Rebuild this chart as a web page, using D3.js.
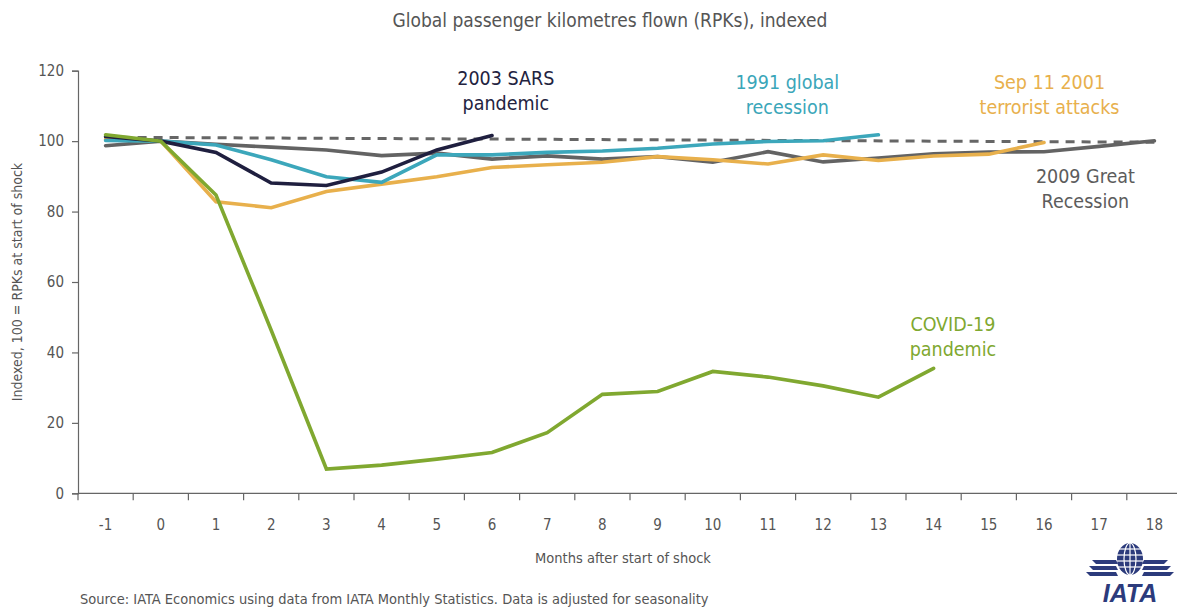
<!DOCTYPE html>
<html>
<head>
<meta charset="utf-8">
<script src="https://cdn.jsdelivr.net/npm/d3@7"></script>
<style>
  html, body { margin: 0; padding: 0; background: #fff; }
  svg { display: block; }
  text { font-family: "Liberation Sans Narrow", "DejaVu Sans Condensed", "Roboto", sans-serif; }
</style>
</head>
<body>
<svg id="chart" width="1177" height="610"></svg>
<script>
// Months relative to the start of each shock
const months = [-1, 0, 1, 2, 3, 4, 5, 6, 7, 8, 9, 10, 11, 12, 13, 14, 15, 16, 17, 18];
const yTicks = [0, 20, 40, 60, 80, 100, 120];

// Indexed RPKs, 100 = start of shock
const sars2003      = [101.3, 100, 96.8, 88.1, 87.4, 91.2, 97.5, 101.6];
const recession1991 = [100.2, 100, 98.9, 94.7, 89.9, 88.3, 96.1, 96.1, 96.8, 97.2, 98.0, 99.2, 99.9, 100.1, 101.8];
const sep11         = [100.5, 100, 82.8, 81.1, 85.7, 87.8, 89.9, 92.5, 93.3, 94.0, 95.6, 94.7, 93.5, 96.1, 94.5, 95.8, 96.3, 99.6];
const greatRec2009  = [98.7, 100, 99.1, 98.3, 97.5, 95.9, 96.6, 94.9, 95.8, 94.9, 95.6, 94.0, 97.0, 94.1, 95.2, 96.4, 96.9, 97.0, 98.5, 100.1];
const covid19       = [101.8, 100, 84.7, 46.3, 6.9, 8.0, 9.7, 11.6, 17.2, 28.1, 28.9, 34.6, 33.0, 30.5, 27.3, 35.5];
// Pre-shock reference level
const referenceLevel = [{ m: -1, v: 101.1 }, { m: 18, v: 99.7 }];

const series = [
  { name: "2003 SARS",      values: sars2003,      color: "#1f1f3f" },
  { name: "1991 global",    values: recession1991, color: "#3ca7bb" },
  { name: "Sep 11 2001",    values: sep11,         color: "#e8b04c" },
  { name: "2009 Great",     values: greatRec2009,  color: "#636363" },
  { name: "COVID-19",       values: covid19,       color: "#80a830" }
];
const drawOrder = ["2009 Great", "Sep 11 2001", "1991 global", "2003 SARS", "COVID-19"];

const labels = [
  { lines: ["2003 SARS", "pandemic"],            color: "#23233f", m: 6.25,  v: 115.9 },
  { lines: ["1991 global", "recession"],         color: "#3aa6b9", m: 11.35, v: 114.7 },
  { lines: ["Sep 11 2001", "terrorist attacks"], color: "#e8b04c", m: 16.1,  v: 114.7 },
  { lines: ["2009 Great", "Recession"],          color: "#5c5c5c", m: 16.75, v: 88.2 },
  { lines: ["COVID-19", "pandemic"],             color: "#80a830", m: 14.35, v: 46.2 }
];

const svg = d3.select("#chart");
const plotLeft = 78, plotRight = 1182, plotTop = 70.7, plotBottom = 493.3;

const x = d3.scaleBand().domain(months).range([plotLeft, plotRight]).padding(0);
const xc = m => x(m) + x.bandwidth() / 2;
const y = d3.scaleLinear().domain([0, 120]).range([plotBottom, plotTop]);

const axisColor = "#666";
const textColor = "#555";

// Title
svg.append("text")
  .attr("x", 610).attr("y", 27)
  .attr("text-anchor", "middle")
  .attr("font-size", 19)
  .attr("fill", textColor)
  .text("Global passenger kilometres flown (RPKs), indexed");

// Y axis
const yAxis = svg.append("g")
  .attr("transform", `translate(${plotLeft},0)`)
  .call(d3.axisLeft(y).tickValues(yTicks).tickSize(6).tickPadding(8));
yAxis.select(".domain").attr("stroke", axisColor).attr("stroke-width", 1.2);
yAxis.selectAll(".tick line").attr("stroke", axisColor).attr("stroke-width", 1.2);
yAxis.selectAll(".tick text").attr("fill", textColor).attr("font-size", 15)
  .style("font-family", '"Liberation Sans Narrow", "DejaVu Sans Condensed", sans-serif');

// X axis: ticks at band edges, labels at band centres
const xAxisG = svg.append("g").attr("transform", `translate(0,${plotBottom})`);
xAxisG.append("line")
  .attr("x1", plotLeft).attr("x2", plotRight)
  .attr("stroke", axisColor).attr("stroke-width", 1.2);
xAxisG.selectAll("line.edge")
  .data(months)
  .join("line")
  .attr("class", "edge")
  .attr("x1", d => x(d)).attr("x2", d => x(d))
  .attr("y1", 0).attr("y2", 7)
  .attr("stroke", axisColor).attr("stroke-width", 1.2);
xAxisG.selectAll("text.lab")
  .data(months)
  .join("text")
  .attr("class", "lab")
  .attr("x", d => xc(d))
  .attr("y", 37)
  .attr("text-anchor", "middle")
  .attr("font-size", 15)
  .attr("fill", textColor)
  .text(d => d);

// Axis titles
svg.append("text")
  .attr("transform", `translate(22,${(plotTop + plotBottom) / 2}) rotate(-90)`)
  .attr("text-anchor", "middle")
  .attr("font-size", 14)
  .attr("fill", textColor)
  .text("Indexed, 100 = RPKs at start of shock");

svg.append("text")
  .attr("x", 623).attr("y", 563)
  .attr("text-anchor", "middle")
  .attr("font-size", 14.5)
  .attr("fill", textColor)
  .text("Months after start of shock");

svg.append("text")
  .attr("x", 80).attr("y", 604)
  .attr("font-size", 14.5)
  .attr("fill", textColor)
  .text("Source: IATA Economics using data from IATA Monthly Statistics. Data is adjusted for seasonality");

// Reference dashed line
const line = d3.line().x(d => xc(d.m)).y(d => y(d.v));
svg.append("path")
  .datum(referenceLevel)
  .attr("d", line)
  .attr("fill", "none")
  .attr("stroke", "#666")
  .attr("stroke-width", 3)
  .attr("stroke-dasharray", "9,7");

// Series lines
drawOrder.forEach(name => {
  const s = series.find(d => d.name === name);
  const pts = s.values.map((v, i) => ({ m: months[i], v }));
  svg.append("path")
    .datum(pts)
    .attr("d", line)
    .attr("fill", "none")
    .attr("stroke", s.color)
    .attr("stroke-width", 3.6)
    .attr("stroke-linejoin", "miter")
    .attr("stroke-linecap", "round");
});

// Direct labels
labels.forEach(l => {
  const lx = xc(0) + l.m * x.bandwidth();
  const t = svg.append("text")
    .attr("x", lx)
    .attr("y", y(l.v))
    .attr("text-anchor", "middle")
    .attr("font-size", 19.5)
    .attr("fill", l.color);
  l.lines.forEach((ln, i) => {
    t.append("tspan")
      .attr("x", lx)
      .attr("dy", i === 0 ? 0 : 25)
      .text(ln);
  });
});

// IATA logo
const logo = svg.append("g").attr("transform", "translate(1130,563)");
const navy = "#2c3b7c";
// wings
[[-3, 10], [3, 7], [9, 4]].forEach(([dy, inset]) => {
  logo.append("path")
    .attr("d", `M${-48 + inset},${dy} L${-14},${dy} L${-12},${dy + 4} L${-44 + inset},${dy + 4} Z`)
    .attr("fill", navy);
  logo.append("path")
    .attr("d", `M${48 - inset},${dy} L${14},${dy} L${12},${dy + 4} L${44 - inset},${dy + 4} Z`)
    .attr("fill", navy);
});
// globe
logo.append("ellipse").attr("rx", 13).attr("ry", 16).attr("cy", -4).attr("fill", navy);
[-10, -4, 2, 8].forEach(dy => {
  logo.append("line").attr("x1", -13).attr("x2", 13).attr("y1", dy - 4).attr("y2", dy - 4)
    .attr("stroke", "#fff").attr("stroke-width", 1.2);
});
logo.append("ellipse").attr("rx", 6).attr("ry", 16).attr("cy", -4)
  .attr("fill", "none").attr("stroke", "#fff").attr("stroke-width", 1.2);
logo.append("line").attr("x1", 0).attr("x2", 0).attr("y1", -20).attr("y2", 12)
  .attr("stroke", "#fff").attr("stroke-width", 1.2);
logo.append("text")
  .attr("x", 0).attr("y", 39)
  .attr("text-anchor", "middle")
  .attr("font-size", 25)
  .attr("font-weight", "bold")
  .attr("font-style", "italic")
  .attr("fill", navy)
  .style("font-family", '"Liberation Sans", Arial, sans-serif')
  .text("IATA");
</script>
</body>
</html>
